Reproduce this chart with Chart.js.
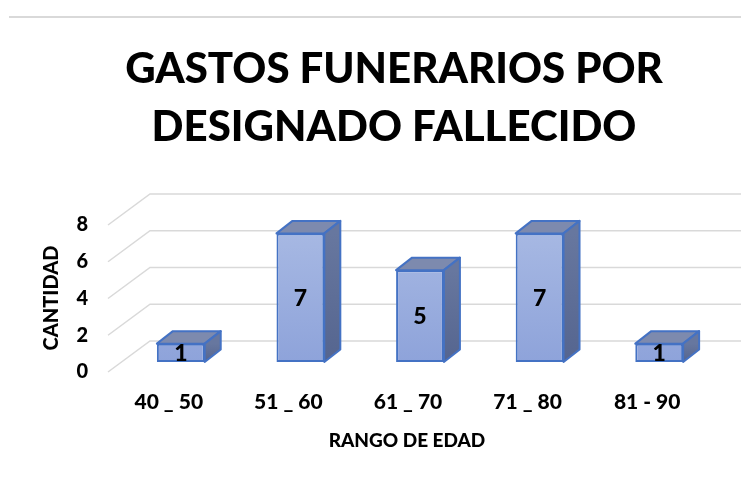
<!DOCTYPE html>
<html>
<head>
<meta charset="utf-8">
<script src="https://cdn.jsdelivr.net/npm/chart.js@4.4.1/dist/chart.umd.min.js"></script>
<style>
  html, body { margin: 0; padding: 0; background: #fff; }
  #wrap { width: 741px; height: 479px; }
</style>
</head>
<body>
<div id="wrap"><canvas id="grafica"></canvas></div>
<script>
// Datos del gráfico
const rangos    = ['40 _ 50', '51 _ 60', '61 _ 70', '71 _ 80', '81 - 90'];
const cantidad  = [1, 7, 5, 7, 1];
const ticksY    = [0, 2, 4, 6, 8];

const FUENTE = 'Lato, "Open Sans", sans-serif';
const PESO   = '900';
const GRIS   = '#d9d9d9';

// desplazamientos de perspectiva respecto al plano frontal de las barras
const PLANO_FRENTE = { dx: -13, dy: 10 };
const PLANO_FONDO  = { dx: 29,  dy: -21 };
const FONDO_BARRA  = { dx: 16,  dy: -12.5 };

const efecto3D = {
  id: 'efecto3D',
  beforeDraw(chart) {
    const { ctx, width } = chart;
    ctx.save();
    ctx.fillStyle = '#fff';
    ctx.fillRect(0, 0, width, chart.height);
    // línea superior del marco
    ctx.strokeStyle = GRIS;
    ctx.lineWidth = 2;
    ctx.beginPath();
    ctx.moveTo(9, 17);
    ctx.lineTo(width, 17);
    ctx.stroke();
    ctx.restore();
  },
  beforeDatasetsDraw(chart) {
    const { ctx, chartArea, scales: { y } } = chart;
    ctx.save();
    // pared del fondo y piso
    ctx.strokeStyle = GRIS;
    ctx.lineWidth = 1.5;
    ticksY.forEach(v => {
      const py = y.getPixelForValue(v);
      ctx.beginPath();
      ctx.moveTo(chartArea.left + PLANO_FRENTE.dx, py + PLANO_FRENTE.dy);
      ctx.lineTo(chartArea.left + PLANO_FONDO.dx, py + PLANO_FONDO.dy);
      ctx.lineTo(chart.width, py + PLANO_FONDO.dy);
      ctx.stroke();
    });
    // etiquetas del eje Y (plano frontal)
    ctx.fillStyle = '#000';
    ctx.font = PESO + ' 20px ' + FUENTE;
    ctx.textAlign = 'right';
    ctx.textBaseline = 'middle';
    ticksY.forEach(v => {
      ctx.fillText(String(v), 88, y.getPixelForValue(v) + PLANO_FRENTE.dy);
    });
    // etiquetas del eje X
    const x = chart.scales.x;
    ctx.font = PESO + ' 21px ' + FUENTE;
    ctx.textAlign = 'center';
    rangos.forEach((r, i) => {
      ctx.fillText(r, x.getPixelForValue(i) - 12, 402);
    });
    // títulos de ejes
    ctx.font = PESO + ' 19px ' + FUENTE;
    ctx.fillText('RANGO DE EDAD', 407, 441);
    ctx.save();
    ctx.translate(52, 298);
    ctx.rotate(-Math.PI / 2);
    ctx.font = PESO + ' 20px ' + FUENTE;
    ctx.fillText('CANTIDAD', 0, 0);
    ctx.restore();
    ctx.restore();
  },
  afterDatasetsDraw(chart) {
    const { ctx } = chart;
    const meta = chart.getDatasetMeta(0);
    ctx.save();
    ctx.lineJoin = 'round';
    meta.data.forEach((bar, i) => {
      const { x, y, base, width } = bar.getProps(['x', 'y', 'base', 'width'], true);
      const l = x - width / 2, r = x + width / 2;
      const dx = FONDO_BARRA.dx, dy = FONDO_BARRA.dy;
      // cara superior
      ctx.beginPath();
      ctx.moveTo(l, y);
      ctx.lineTo(l + dx, y + dy);
      ctx.lineTo(r + dx, y + dy);
      ctx.lineTo(r, y);
      ctx.closePath();
      ctx.fillStyle = '#7d8aae';
      ctx.fill();
      ctx.strokeStyle = '#4472c4';
      ctx.lineWidth = 2;
      ctx.stroke();
      // cara lateral
      const g = ctx.createLinearGradient(0, y, 0, base);
      g.addColorStop(0, '#67779f');
      g.addColorStop(1, '#55658f');
      ctx.beginPath();
      ctx.moveTo(r, y);
      ctx.lineTo(r + dx, y + dy);
      ctx.lineTo(r + dx, base + dy);
      ctx.lineTo(r, base);
      ctx.closePath();
      ctx.fillStyle = g;
      ctx.fill();
      ctx.stroke();
      // valor
      ctx.fillStyle = '#000';
      ctx.font = PESO + ' 23px ' + FUENTE;
      ctx.textAlign = 'center';
      ctx.textBaseline = 'middle';
      ctx.fillText(String(cantidad[i]), x, (y + base) / 2 + 1);
    });
    ctx.restore();
  }
};

function degradadoFrente(context) {
  const { chart } = context;
  const area = chart.chartArea;
  if (!area) return '#a0b2e0';
  const g = chart.ctx.createLinearGradient(0, area.top, 0, area.bottom);
  g.addColorStop(0, '#aabbe4');
  g.addColorStop(1, '#8ea3da');
  return g;
}

new Chart(document.getElementById('grafica'), {
  type: 'bar',
  data: {
    labels: rangos,
    datasets: [{
      label: 'Cantidad',
      data: cantidad,
      yAxisID: 'y',
      backgroundColor: degradadoFrente,
      borderColor: '#4472c4',
      borderWidth: 2,
      borderSkipped: false,
      categoryPercentage: 1,
      barPercentage: 0.40
    }]
  },
  options: {
    responsive: true,
    maintainAspectRatio: false,
    animation: false,
    // el título queda centrado en x=394 como en el original
    layout: { padding: { left: 47, right: 0, top: 0, bottom: 0 } },
    plugins: {
      legend: { display: false },
      tooltip: { enabled: false },
      title: {
        display: true,
        text: ['GASTOS FUNERARIOS POR', 'DESIGNADO FALLECIDO'],
        color: '#000',
        font: { family: FUENTE, size: 42, weight: PESO, lineHeight: 1.381 },
        padding: { top: 40, bottom: 59 }
      }
    },
    scales: {
      x: {
        ticks: { display: false }, grid: { display: false }, border: { display: false },
        afterFit: s => { s.height = 117; }
      },
      y: {
        min: 0, max: 8,
        ticks: { display: false }, grid: { display: false }, border: { display: false },
        afterFit: s => { s.width = 74; }
      },
      yDer: {
        position: 'right', min: 0, max: 8,
        ticks: { display: false }, grid: { display: false }, border: { display: false },
        afterFit: s => { s.width = 22; }
      }
    }
  },
  plugins: [efecto3D]
});
</script>
</body>
</html>
